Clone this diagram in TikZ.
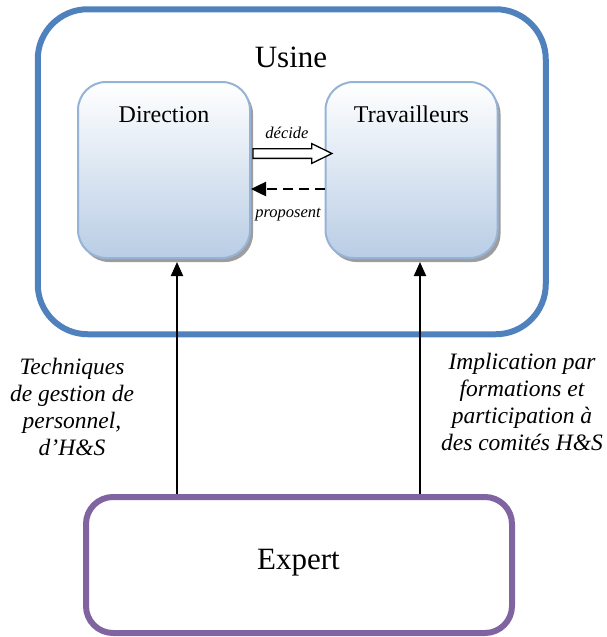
\documentclass[tikz,border=0pt]{standalone}
\usepackage{fontspec}
\setmainfont{Liberation Serif}[ItalicFont={Liberation Serif Italic},BoldFont={Liberation Serif Bold}]
\usetikzlibrary{shapes.arrows,shadows,arrows.meta}
\definecolor{usineblue}{HTML}{4F81BD}
\definecolor{expertpurple}{HTML}{8064A2}
\definecolor{boxborder}{HTML}{95B3D7}
\definecolor{boxfill}{HTML}{B9CDE5}
\begin{document}
\begin{tikzpicture}[x=1pt,y=-1pt,
  bigbox/.style={draw=usineblue,line width=6pt,rounded corners=50pt,minimum width=508pt,minimum height=325pt,inner sep=0pt},
  actor/.style={draw=boxborder,line width=2pt,rounded corners=28pt,top color=white,bottom color=boxfill,
     minimum width=172pt,minimum height=176pt,inner sep=0pt,
     drop shadow={shadow xshift=3pt,shadow yshift=-4pt,fill=black!55,opacity=.7}},
  expertbox/.style={draw=expertpurple,line width=6pt,rounded corners=27pt,minimum width=426pt,minimum height=136pt,inner sep=0pt},
  biglabel/.style={font=\fontsize{31}{37}\selectfont,inner sep=0pt},
  actorlabel/.style={font=\fontsize{24}{28}\selectfont,inner sep=0pt},
  sidelabel/.style={font=\fontsize{23.5}{27}\selectfont\itshape,align=center,inner sep=0pt},
  smalllabel/.style={font=\fontsize{16.5}{20}\selectfont\itshape,inner sep=0pt},
  flow/.style={line width=2pt,-{Triangle[length=14pt,width=12pt]}}
]
\useasboundingbox (0,0) rectangle (607,637);
\node[bigbox] (usine) at (291.75,171.75) {};
\node[biglabel,anchor=base] (usinet) at (291,67) {Usine};
\node[actor] (dir) at (164,170) {};
\node[actor] (trav) at (411.5,170) {};
\node[actorlabel,anchor=base] (dirt) at (164,122) {Direction};
\node[actorlabel,anchor=base] (travt) at (411.5,122) {Travailleurs};
\node[expertbox] (expert) at (299,565) {};
\node[biglabel,anchor=base] (expertt) at (298.5,569) {Expert};
% decide / proposent
\node[single arrow,draw,line width=1.3pt,fill=white,minimum height=79pt,minimum width=19pt,
  single arrow head extend=5pt,single arrow head indent=0pt,single arrow tip angle=52,inner sep=4.2pt] (dec) at (287.5,153.5) {};
\node[smalllabel,anchor=base] (dect) at (287,138) {décide};
\coordinate (pstart) at ([yshift=-19pt]trav.west);
\coordinate (pend) at ([yshift=-19pt]dir.east);
\draw[line width=2.5pt,dash pattern=on 10pt off 6pt,-{Triangle[length=15pt,width=14pt]}] (pstart) -- (pend);
\node[smalllabel,anchor=base] (propt) at (288,217) {proposent};
% vertical arrows
\coordinate (t1) at (177,262);
\coordinate (t2) at (420,262);
\draw[flow] (t1 |- expert.north) -- (t1);
\draw[flow] (t2 |- expert.north) -- (t2);
\node[sidelabel,anchor=base] (left) at (72,455) {Techniques\\de gestion de\\personnel,\\d’H\&S};
\node[sidelabel,anchor=base] (right) at (522,450) {Implication par\\formations et\\participation à\\des comités H\&S};
\end{tikzpicture}
\end{document}
